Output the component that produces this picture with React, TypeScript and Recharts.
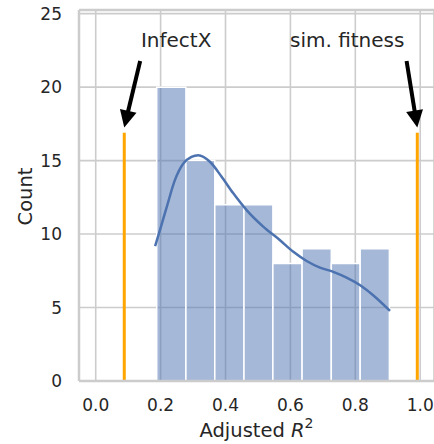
import React from 'react';
import {
  ComposedChart,
  Line,
  XAxis,
  YAxis,
  CartesianGrid,
  ReferenceArea,
  ReferenceLine,
  ReferenceDot,
} from 'recharts';

// histogram of adjusted R^2
const binEdges = [0.188, 0.278, 0.367, 0.457, 0.546, 0.636, 0.726, 0.815, 0.905];
const counts = [20, 15, 12, 12, 8, 9, 8, 9];

// kde curve (scaled to counts)
const kdeX = [0.183, 0.198, 0.219, 0.244, 0.27, 0.295, 0.316, 0.352, 0.388, 0.424, 0.465, 0.517, 0.568, 0.609, 0.65, 0.691, 0.732, 0.773, 0.815, 0.855, 0.907];
const kdeY = [9.18, 10.27, 11.85, 13.67, 14.8, 15.25, 15.37, 14.92, 13.9, 12.77, 11.63, 10.49, 9.58, 8.79, 8.17, 7.72, 7.43, 7.04, 6.52, 5.84, 4.77];

// reference values
const markLabels = ['InfectX', 'sim. fitness'];
const markX = [0.088, 0.991];
const markTop = 16.9;
const textX = [0.248, 0.775];
const textY = 23.24;
const arrowTailX = [0.137, 0.958];
const arrowTailY = 21.78;
const arrowTipY = 17.26;

const xTicks = [0, 0.2, 0.4, 0.6, 0.8, 1.0];
const yTicks = [0, 5, 10, 15, 20, 25];

const kdeData = kdeX.map((x, i) => ({ x, kde: kdeY[i] }));

const textColor = '#262626';
const gridColor = '#cccccc';
const blue = '#4C72B0';

const Arrow = (props: any) => {
  const { x1, y1, x2, y2 } = props;
  const dx = x2 - x1;
  const dy = y2 - y1;
  const len = Math.sqrt(dx * dx + dy * dy);
  const ux = dx / len;
  const uy = dy / len;
  const headLen = 17;
  const headW = 8.5;
  const bx = x2 - ux * headLen;
  const by = y2 - uy * headLen;
  const px = -uy;
  const py = ux;
  return (
    <g>
      <line x1={x1} y1={y1} x2={bx + ux * 2} y2={by + uy * 2} stroke="#000" strokeWidth={4} />
      <polygon
        points={`${x2},${y2} ${bx + px * headW},${by + py * headW} ${bx - px * headW},${by - py * headW}`}
        fill="#000"
      />
    </g>
  );
};

const XLabel = (props: any) => {
  const { viewBox } = props;
  const cx = viewBox.x + viewBox.width / 2;
  const y = viewBox.y + 56;
  return (
    <text x={cx} y={y} textAnchor="middle" fontSize={19.5} fill={textColor}>
      <tspan>Adjusted </tspan>
      <tspan fontStyle="italic">R</tspan>
      <tspan dy={-9} fontSize={14}>2</tspan>
    </text>
  );
};

const YLabel = (props: any) => {
  const { viewBox } = props;
  const cy = viewBox.y + viewBox.height / 2 + 1;
  const x = 31.5;
  return (
    <text x={x} y={cy} transform={`rotate(-90, ${x}, ${cy})`} textAnchor="middle" fontSize={19.5} fill={textColor}>
      Count
    </text>
  );
};

export default function App() {
  return (
    <div style={{ position: 'absolute', left: 0, top: 0, fontFamily: '"DejaVu Sans", sans-serif' }}>
      <ComposedChart width={434} height={444} data={kdeData} margin={{ top: 10, right: 0, left: 0, bottom: 0 }}>
        <CartesianGrid stroke={gridColor} strokeWidth={1.6} />
        <XAxis
          type="number"
          dataKey="x"
          domain={[-0.0515, 1.0425]}
          ticks={xTicks}
          tickFormatter={(v: number) => v.toFixed(1)}
          allowDataOverflow
          tickSize={0}
          tickMargin={18}
          height={63}
          axisLine={{ stroke: gridColor, strokeWidth: 2.5 }}
          tick={{ fill: textColor, fontSize: 17 }}
          label={<XLabel />}
        />
        <YAxis
          type="number"
          domain={[0, 25.25]}
          ticks={yTicks}
          allowDataOverflow
          width={79}
          tickSize={0}
          tickMargin={17}
          axisLine={{ stroke: gridColor, strokeWidth: 2.5 }}
          tick={{ fill: textColor, fontSize: 17 }}
          label={<YLabel />}
        />
        <ReferenceLine y={25.25} stroke={gridColor} strokeWidth={2.5} ifOverflow="visible" />
        {counts.map((c, i) => (
          <ReferenceArea
            key={i}
            x1={binEdges[i]}
            x2={binEdges[i + 1]}
            y1={0}
            y2={c}
            fill={blue}
            fillOpacity={0.5}
            stroke="#ffffff"
            strokeWidth={1.5}
            strokeOpacity={1}
          />
        ))}
        <Line type="monotone" dataKey="kde" stroke={blue} strokeWidth={2.5} dot={false} isAnimationActive={false} />
        {markX.map((x, i) => (
          <ReferenceLine
            key={'m' + i}
            segment={[{ x, y: 0 }, { x, y: markTop }]}
            stroke="#FFA500"
            strokeWidth={3}
            ifOverflow="visible"
          />
        ))}
        {markX.map((x, i) => (
          <ReferenceLine
            key={'a' + i}
            segment={[{ x: arrowTailX[i], y: arrowTailY }, { x, y: arrowTipY }]}
            shape={<Arrow />}
            ifOverflow="visible"
          />
        ))}
        {markLabels.map((t, i) => (
          <ReferenceDot
            key={'t' + i}
            x={textX[i]}
            y={textY}
            r={0}
            fill="none"
            stroke="none"
            label={{ value: t, position: 'center', fontSize: 20, fill: textColor }}
          />
        ))}
      </ComposedChart>
    </div>
  );
}
